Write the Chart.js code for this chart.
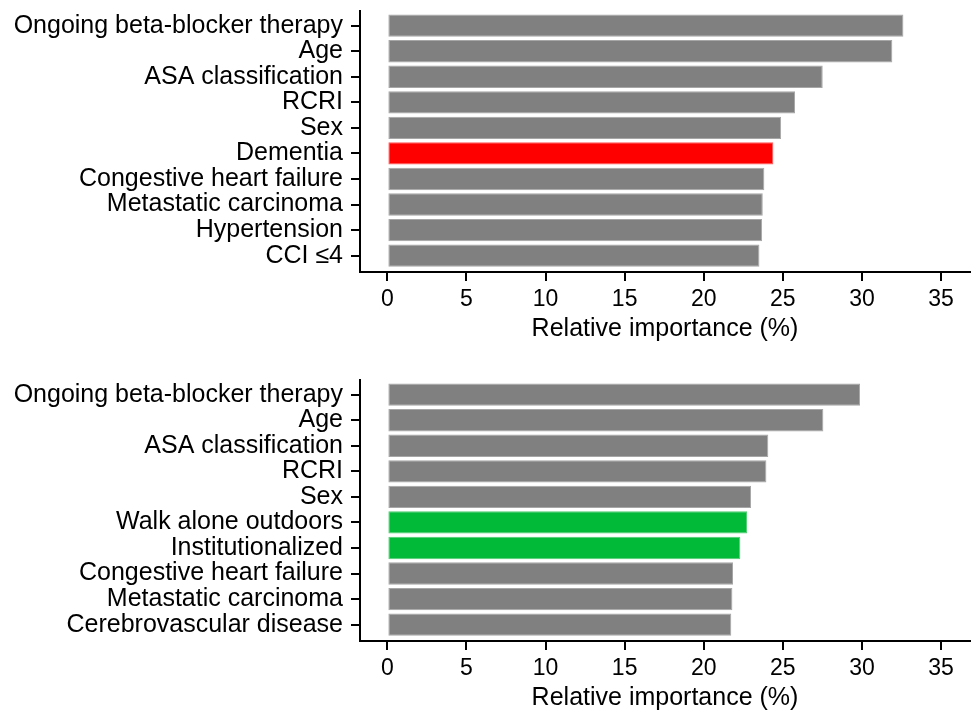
<!DOCTYPE html>
<html>
<head>
<meta charset="utf-8">
<script src="https://cdn.jsdelivr.net/npm/chart.js@4.4.0/dist/chart.umd.min.js"></script>
<style>
  html, body { margin: 0; padding: 0; background: #fff; }
  canvas { position: absolute; left: 0; }
  #top-chart { top: 0; }
  #bottom-chart { top: 369px; }
</style>
</head>
<body>
<canvas id="top-chart" width="974" height="345"></canvas>
<canvas id="bottom-chart" width="974" height="345"></canvas>
<script>
// values
const topLabels = ['Ongoing beta-blocker therapy', 'Age', 'ASA classification', 'RCRI', 'Sex',
  'Dementia', 'Congestive heart failure', 'Metastatic carcinoma', 'Hypertension', 'CCI \u22644'];
const topValues = [32.62, 31.92, 27.52, 25.77, 24.89, 24.40, 23.83, 23.73, 23.69, 23.52];
const topHighlight = ['Dementia'];

const bottomLabels = ['Ongoing beta-blocker therapy', 'Age', 'ASA classification', 'RCRI', 'Sex',
  'Walk alone outdoors', 'Institutionalized', 'Congestive heart failure', 'Metastatic carcinoma',
  'Cerebrovascular disease'];
const bottomValues = [29.88, 27.56, 24.08, 23.96, 22.99, 22.74, 22.31, 21.85, 21.81, 21.74];
const bottomHighlight = ['Walk alone outdoors', 'Institutionalized'];

const xTicks = [0, 5, 10, 15, 20, 25, 30, 35];
const xTitle = 'Relative importance (%)';

const FONT = 'Liberation Sans, Arial, sans-serif';

function makeChart(id, labels, values, highlight, hiFill, hiBorder) {
  const fills = labels.map(l => highlight.includes(l) ? hiFill : '#808080');
  const borders = labels.map(l => highlight.includes(l) ? hiBorder : '#a6a6a6');
  return new Chart(document.getElementById(id), {
    type: 'bar',
    data: {
      datasets: [{
        data: values.map((v, i) => ({ x: v, y: i })),
        backgroundColor: fills,
        borderColor: borders,
        borderWidth: 1,
        borderSkipped: false,
        barPercentage: 0.875,
        categoryPercentage: 1
      }]
    },
    options: {
      indexAxis: 'y',
      responsive: false,
      animation: false,
      layout: { padding: { top: 11, right: 4, bottom: 0, left: 0 } },
      plugins: { legend: { display: false }, tooltip: { enabled: false } },
      scales: {
        x: {
          type: 'linear',
          min: -1.73,
          max: 36.83,
          afterBuildTicks: s => { s.ticks = xTicks.map(v => ({ value: v })); },
          afterFit: s => { s.height = 73; s.paddingLeft = 0; s.paddingRight = 0; },
          ticks: { color: '#000', font: { family: FONT, size: 23 }, padding: 5, maxRotation: 0, autoSkip: false },
          grid: { display: true, drawOnChartArea: false, drawTicks: true, tickLength: 9, color: '#000', lineWidth: 2 },
          border: { display: true, color: '#000', width: 2 },
          title: { display: true, text: xTitle, color: '#000', font: { family: FONT, size: 25, lineHeight: 1.2 }, padding: { top: 0, bottom: 1 } }
        },
        y: {
          type: 'linear',
          reverse: true,
          offset: false,
          min: -0.575,
          max: 9.64,
          afterBuildTicks: s => { s.ticks = labels.map((_, i) => ({ value: i })); },
          afterFit: s => { s.width = 360; s.paddingTop = 0; s.paddingBottom = 0; },
          ticks: { color: '#000', font: { family: FONT, size: 25 }, padding: 8, autoSkip: false, callback: v => labels[v] },
          grid: { display: true, offset: false, drawOnChartArea: false, drawTicks: true, tickLength: 9, color: '#000', lineWidth: 2 },
          border: { display: true, color: '#000', width: 2 }
        }
      }
    }
  });
}

makeChart('top-chart', topLabels, topValues, topHighlight, '#ff0000', '#ff5a5a');
makeChart('bottom-chart', bottomLabels, bottomValues, bottomHighlight, '#00ba38', '#50cc70');
</script>
</body>
</html>
